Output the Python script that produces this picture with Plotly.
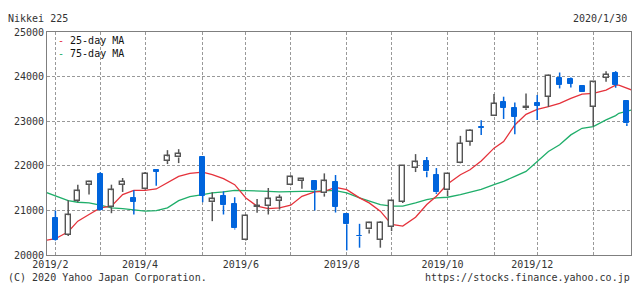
import plotly.graph_objects as go

# ---- data (weekly candles, Nikkei 225) ----
dates = ["2019-02-04", "2019-02-12", "2019-02-18", "2019-02-25", "2019-03-04", "2019-03-11",
         "2019-03-18", "2019-03-25", "2019-04-01", "2019-04-08", "2019-04-15", "2019-04-22",
         "2019-05-07", "2019-05-13", "2019-05-20", "2019-05-27", "2019-06-03", "2019-06-10",
         "2019-06-17", "2019-06-24", "2019-07-01", "2019-07-08", "2019-07-16", "2019-07-22",
         "2019-07-29", "2019-08-05", "2019-08-13", "2019-08-19", "2019-08-26", "2019-09-02",
         "2019-09-09", "2019-09-17", "2019-09-24", "2019-09-30", "2019-10-07", "2019-10-15",
         "2019-10-21", "2019-10-28", "2019-11-05", "2019-11-11", "2019-11-18", "2019-11-25",
         "2019-12-02", "2019-12-09", "2019-12-16", "2019-12-23", "2019-12-30", "2020-01-06",
         "2020-01-14", "2020-01-20", "2020-01-27"]
opens = [20833, 20446, 21220, 21570, 21815, 21071, 21577, 21280, 21488, 21897, 22113, 22187,
         22195, 21183, 21317, 21146, 20335, 21079, 21094, 21220, 21562, 21667, 21652, 21384,
         21637, 20923, 20432, 20573, 20335, 20625, 21190, 21949, 22106, 21793, 21451, 22053,
         22544, 22864, 23125, 23422, 23303, 23288, 23400, 23549, 23958, 23943, 23780, 23318,
         23973, 24092, 23452]
highs = [20997, 21228, 21577, 21667, 21853, 21577, 21726, 21451, 21860, 21905, 22351, 22373,
         22210, 21406, 21428, 21295, 20908, 21257, 21503, 21354, 21786, 21711, 21660, 21830,
         21793, 20930, 20699, 20744, 20759, 21235, 22009, 22262, 22195, 21949, 21830, 22671,
         22820, 23021, 23608, 23549, 23422, 23623, 23586, 24047, 24092, 23980, 23780, 23899,
         24122, 24122, 23474]
lows = [20312, 20424, 21183, 21354, 20997, 20937, 21414, 20908, 21466, 21555, 22039, 22061,
        21183, 20759, 20908, 20573, 20327, 20945, 20908, 21019, 21555, 21488, 20997, 21309,
        20952, 20104, 20164, 20484, 20164, 20536, 21168, 21860, 21741, 21369, 21317, 22045,
        22448, 22693, 23118, 23050, 22708, 23251, 23028, 23318, 23735, 23757, 23653, 22879,
        23884, 23750, 22894]
closes = [20327, 20893, 21428, 21629, 21019, 21451, 21637, 21198, 21815, 21860, 22210, 22262,
          21332, 21250, 21116, 20595, 20885, 21109, 21250, 21272, 21741, 21704, 21451, 21652,
          21086, 20684, 20417, 20714, 20722, 21205, 21994, 22076, 21875, 21406, 21815, 22500,
          22790, 22850, 23393, 23296, 23103, 23311, 23341, 24018, 23809, 23832, 23653, 23869,
          24040, 23809, 22954]

# ---- moving averages ----
ma_dates = ["2019-01-29", "2019-02-04", "2019-02-12", "2019-02-18", "2019-02-25", "2019-03-04",
            "2019-03-11", "2019-03-18", "2019-03-25", "2019-04-01", "2019-04-08", "2019-04-15",
            "2019-04-22", "2019-04-29", "2019-05-07", "2019-05-13", "2019-05-20", "2019-05-27",
            "2019-06-03", "2019-06-10", "2019-06-17", "2019-06-24", "2019-07-01", "2019-07-08",
            "2019-07-16", "2019-07-22", "2019-07-29", "2019-08-05", "2019-08-13", "2019-08-19",
            "2019-08-26", "2019-09-02", "2019-09-09", "2019-09-17", "2019-09-24", "2019-09-30",
            "2019-10-07", "2019-10-15", "2019-10-21", "2019-10-28", "2019-11-05", "2019-11-11",
            "2019-11-18", "2019-11-25", "2019-12-02", "2019-12-09", "2019-12-16", "2019-12-23",
            "2019-12-30", "2020-01-06", "2020-01-14", "2020-01-20", "2020-01-22", "2020-01-30"]
ma25 = [20327, 20365, 20521, 20759, 20908, 21056, 21094, 21354, 21451, 21451, 21480, 21614,
        21763, 21830, 21860, 21800, 21711, 21577, 21280, 21094, 21042, 21056, 21116, 21317,
        21414, 21428, 21518, 21466, 21280, 21168, 20982, 20684, 20647, 20848, 21131, 21317,
        21592, 21800, 21912, 22110, 22396, 22544, 22916, 23155, 23266, 23326, 23400, 23512,
        23608, 23623, 23698, 23809, 23809, 23698]
ma75 = [21406, 21332, 21220, 21183, 21168, 21116, 21056, 21042, 21019, 20982, 20997, 21056,
        21220, 21310, 21354, 21391, 21414, 21451, 21443, 21443, 21428, 21414, 21428, 21428,
        21428, 21443, 21443, 21391, 21280, 21205, 21131, 21094, 21094, 21168, 21242, 21280,
        21295, 21354, 21406, 21470, 21577, 21652, 21763, 21875, 22098, 22321, 22470, 22693,
        22842, 22879, 23028, 23125, 23177, 23251]

grid_dates = ["2019-02-04", "2019-03-04", "2019-04-01", "2019-05-07", "2019-06-03", "2019-07-01",
              "2019-08-05", "2019-09-02", "2019-10-07", "2019-11-05", "2019-12-02", "2020-01-06"]
grid_labels = ["2019/2", "", "2019/4", "", "2019/6", "", "2019/8", "", "2019/10", "", "2019/12", ""]
y_ticks = [20000, 21000, 22000, 23000, 24000, 25000]

# ---- style ----
FONT = "DejaVu Sans Mono"
TXT = "#333333"
GRAY = "#555555"
BLUE = "#0064dc"
RED = "#e5323b"
GREEN = "#1fae6a"
FRAME = "#7f7f7f"
GRID = "#999999"
W, H = 634, 285
L, R, T, B = 47, 3, 32, 30
PW, PH = W - L - R, H - T - B
DAY_MS = 86400000
BAR_W = 5 / (PW / 365.85) * DAY_MS  # ~5 px


def px(xp):
    return (xp - L) / PW


def py(yp):
    return (H - B - yp) / PH


up = [i for i in range(len(dates)) if closes[i] >= opens[i]]
dn = [i for i in range(len(dates)) if closes[i] < opens[i]]


def wick_xy(idx):
    xs, ys = [], []
    for i in idx:
        top = max(opens[i], closes[i])
        bot = min(opens[i], closes[i])
        if highs[i] > top:
            xs += [dates[i], dates[i], None]
            ys += [top, highs[i], None]
        if lows[i] < bot:
            xs += [dates[i], dates[i], None]
            ys += [lows[i], bot, None]
    return xs, ys


fig = go.Figure()

fig.add_trace(go.Scatter(x=ma_dates, y=ma75, mode="lines", line=dict(color=GREEN, width=1.3),
                         hoverinfo="skip", name="75-day MA"))
fig.add_trace(go.Scatter(x=ma_dates, y=ma25, mode="lines", line=dict(color=RED, width=1.3),
                         hoverinfo="skip", name="25-day MA"))

wx, wy = wick_xy(up)
fig.add_trace(go.Scatter(x=wx, y=wy, mode="lines", line=dict(color=GRAY, width=1.5),
                         yaxis="y2", hoverinfo="skip"))
wx, wy = wick_xy(dn)
fig.add_trace(go.Scatter(x=wx, y=wy, mode="lines", line=dict(color=BLUE, width=1.5),
                         yaxis="y2", hoverinfo="skip"))

fig.add_trace(go.Bar(x=[dates[i] for i in up],
                     base=[opens[i] for i in up],
                     y=[closes[i] - opens[i] for i in up],
                     width=BAR_W, marker=dict(color="white", line=dict(color=GRAY, width=1.4)),
                     yaxis="y2", hoverinfo="skip"))
fig.add_trace(go.Bar(x=[dates[i] for i in dn],
                     base=[closes[i] for i in dn],
                     y=[opens[i] - closes[i] for i in dn],
                     width=BAR_W, marker=dict(color=BLUE, line=dict(color=BLUE, width=1)),
                     yaxis="y2", hoverinfo="skip"))

axis_common = dict(showline=True, mirror=True, linecolor=FRAME, linewidth=1, zeroline=False,
                   ticks="", gridcolor=GRID, griddash="3px,2px", gridwidth=1)

fig.update_layout(
    width=W, height=H, margin=dict(l=L, r=R, t=T, b=B, pad=0),
    paper_bgcolor="white", plot_bgcolor="white",
    font=dict(family=FONT, size=10, color=TXT),
    showlegend=False, barmode="overlay", bargap=0,
    xaxis=dict(type="date", range=["2019-01-29 18:00", "2020-01-29 14:00"],
               tickmode="array", tickvals=grid_dates, ticktext=grid_labels,
               ticklabelshift=-5, **axis_common),
    yaxis=dict(range=[20000, 25000], tickmode="array", tickvals=y_ticks,
               tickformat="d", **axis_common),
    yaxis2=dict(overlaying="y", matches="y", showgrid=False, showticklabels=False,
                showline=False, zeroline=False, ticks=""),
    annotations=[
        dict(text="Nikkei 225", x=px(6), y=py(18), xref="paper", yref="paper",
             xanchor="left", yanchor="middle", showarrow=False),
        dict(text="2020/1/30", x=px(629), y=py(18), xref="paper", yref="paper",
             xanchor="right", yanchor="middle", showarrow=False),
        dict(text="(C) 2020 Yahoo Japan Corporation.", x=px(6), y=py(277), xref="paper",
             yref="paper", xanchor="left", yanchor="middle", showarrow=False),
        dict(text="https://stocks.finance.yahoo.co.jp", x=px(632), y=py(277), xref="paper",
             yref="paper", xanchor="right", yanchor="middle", showarrow=False),
        dict(text=f"<span style='color:{RED}'>-</span> 25-day MA", x=px(56), y=py(40),
             xref="paper", yref="paper", xanchor="left", yanchor="middle", showarrow=False,
             font=dict(color="#111111")),
        dict(text=f"<span style='color:{GREEN}'>-</span> 75-day MA", x=px(56), y=py(53),
             xref="paper", yref="paper", xanchor="left", yanchor="middle", showarrow=False,
             font=dict(color="#111111")),
    ],
)

fig.write_html("out.html")
